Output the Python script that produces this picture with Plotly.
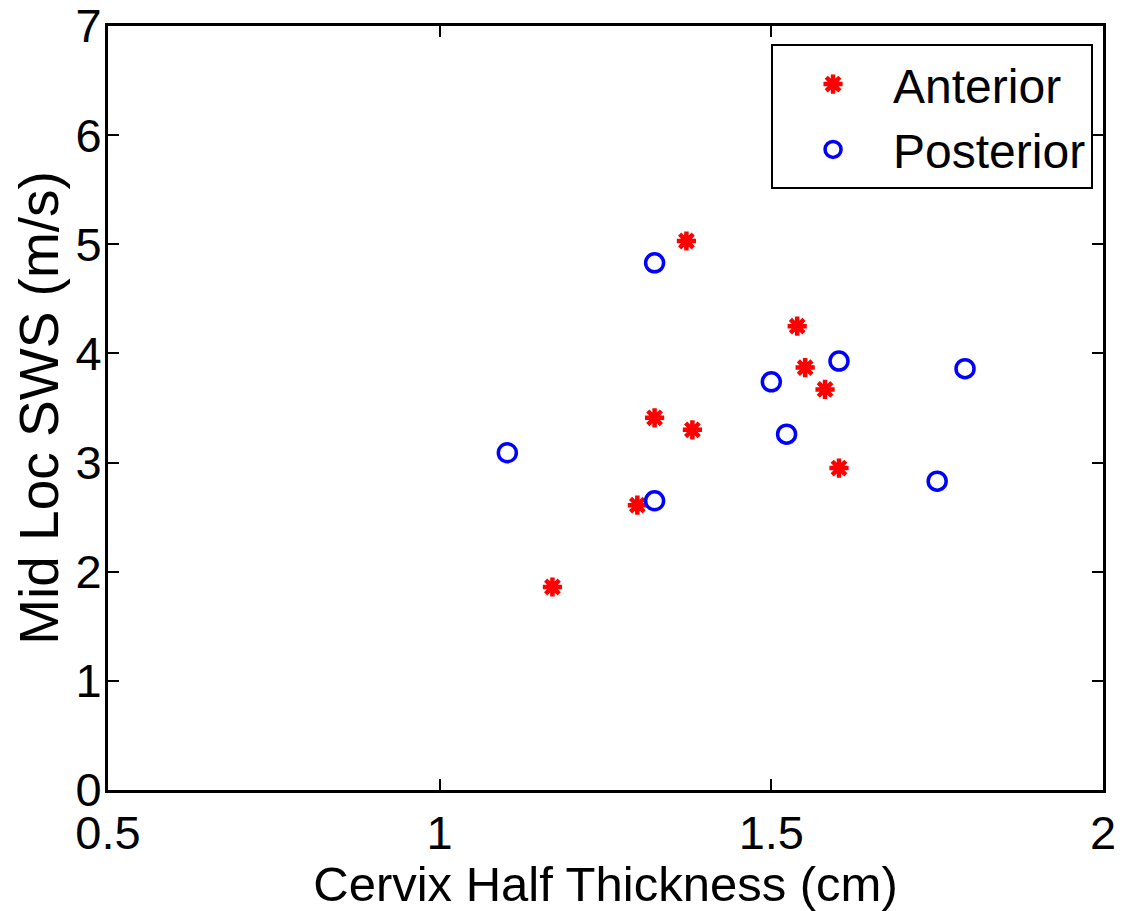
import plotly.graph_objects as go

ant_x = [1.372, 1.539, 1.551, 1.581, 1.324, 1.381, 1.602, 1.298, 1.170]
ant_y = [5.03, 4.25, 3.87, 3.67, 3.41, 3.30, 2.95, 2.61, 1.86]
post_x = [1.324, 1.602, 1.500, 1.792, 1.523, 1.102, 1.324, 1.750]
post_y = [4.83, 3.93, 3.74, 3.86, 3.26, 3.09, 2.65, 2.83]

x_ticks = [0.5, 1, 1.5, 2]
x_labels = ["0.5", "1", "1.5", "2"]
y_ticks = [0, 1, 2, 3, 4, 5, 6, 7]

FONT = "Liberation Sans, Arial, sans-serif"
FS = 47

fig = go.Figure()
fig.add_trace(go.Scatter(
    x=ant_x, y=ant_y, mode="markers", name="Anterior",
    marker=dict(symbol="asterisk-open", size=16, color="red",
                line=dict(color="red", width=4.5)),
))
fig.add_trace(go.Scatter(
    x=post_x, y=post_y, mode="markers", name="Posterior",
    marker=dict(symbol="circle-open", size=18, color="blue",
                line=dict(color="blue", width=3.5)),
))

axis_common = dict(
    showline=True, linecolor="black", linewidth=3, mirror="allticks",
    ticks="inside", ticklen=11, tickwidth=2, tickcolor="black",
    showgrid=False, zeroline=False, automargin=False,
    ticklabeloverflow="allow",
    tickfont=dict(family=FONT, size=FS, color="black"),
)

fig.update_xaxes(range=[0.5, 2], tickvals=x_ticks, ticktext=x_labels,
                 title=dict(text="Cervix Half Thickness (cm)",
                            font=dict(family=FONT, size=49, color="black"),
                            standoff=2),
                 **axis_common)
fig.update_yaxes(range=[0, 7], tickvals=y_ticks, ticklabelstandoff=-6,
                 title=dict(text="Mid Loc SWS (m/s)",
                            font=dict(family=FONT, size=55, color="black"),
                            standoff=2),
                 **axis_common)

fig.update_layout(
    width=1122, height=903,
    margin=dict(l=100, r=27, t=18, b=121),
    paper_bgcolor="white", plot_bgcolor="white",
    font=dict(family=FONT, size=FS, color="black"),
    legend=dict(x=0.99, y=0.976, xanchor="right", yanchor="top",
                bordercolor="black", borderwidth=2, bgcolor="white",
                itemwidth=110, tracegroupgap=0,
                font=dict(family=FONT, size=48, color="black")),
    showlegend=True,
)

fig.write_html("out.html")
